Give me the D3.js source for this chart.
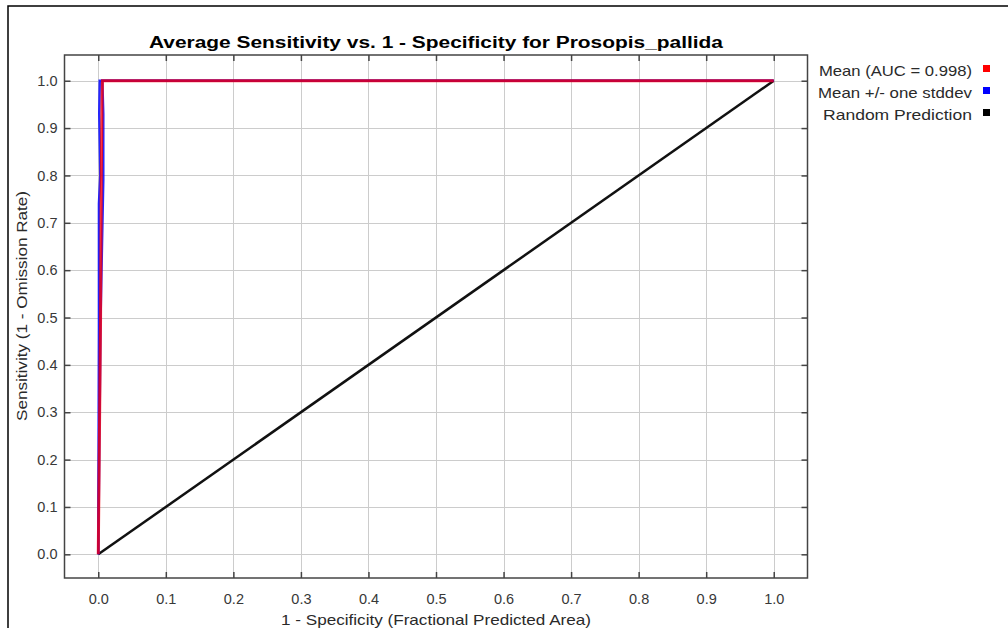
<!DOCTYPE html>
<html>
<head>
<meta charset="utf-8">
<script src="https://cdn.jsdelivr.net/npm/d3@7"></script>
<style>
  html, body { margin: 0; padding: 0; background: #fff; }
  svg { display: block; font-family: "Liberation Sans", Arial, sans-serif; }
</style>
</head>
<body>
<svg id="chart" width="1008" height="628"></svg>
<script>
// data
const xTicks = [0, 0.1, 0.2, 0.3, 0.4, 0.5, 0.6, 0.7, 0.8, 0.9, 1.0];
const yTicks = [0, 0.1, 0.2, 0.3, 0.4, 0.5, 0.6, 0.7, 0.8, 0.9, 1.0];

const upperX = [0, 0.001, 0.001, 0.003, 0.0015, 0.0022, 1];
const upperY = [0, 0.48, 0.74, 0.80, 0.93, 1.0, 1.0];
const lowerX = [0, 0.0034, 0.0074, 0.0074, 0.006, 1];
const lowerY = [0, 0.5, 0.79, 0.93, 1.0, 1.0];
const meanX = [0, 0.0034, 0.0045, 0.0055, 0.0062, 1];
const meanY = [0, 0.5, 0.8, 0.95, 1.0, 1.0];
const randomX = [0, 1];
const randomY = [0, 1];

const legendLabels = ['Mean (AUC = 0.998)', 'Mean +/- one stddev', 'Random Prediction'];
const legendColors = ['#ff0000', '#0000ff', '#000000'];
const legendWidths = [153, 154, 149];

const svg = d3.select('#chart');

// outer frame
svg.append('rect')
  .attr('x', 8).attr('y', 6)
  .attr('width', 1100).attr('height', 700)
  .attr('fill', 'none')
  .attr('stroke', '#000')
  .attr('stroke-width', 1.5);

const plot = { left: 64.5, right: 807.5, top: 55, bottom: 578 };

const x = d3.scaleLinear().domain([-0.05, 1.05]).range([plot.left, plot.right]);
const y = d3.scaleLinear().domain([-0.05, 1.0543]).range([plot.bottom, plot.top]);

// grid
const grid = svg.append('g').attr('stroke', '#cccccc').attr('stroke-width', 1);
grid.selectAll('.gx').data(xTicks).enter().append('line')
  .attr('x1', d => Math.round(x(d)) + 0.5).attr('x2', d => Math.round(x(d)) + 0.5)
  .attr('y1', plot.top).attr('y2', plot.bottom);
grid.selectAll('.gy').data(yTicks).enter().append('line')
  .attr('y1', d => Math.round(y(d)) + 0.5).attr('y2', d => Math.round(y(d)) + 0.5)
  .attr('x1', plot.left).attr('x2', plot.right);

// axes with inward ticks on all four sides
const fmt = d3.format('.1f');
function styleAxis(g) {
  g.select('.domain').remove();
  g.selectAll('.tick line').attr('stroke', '#444').attr('stroke-width', 1.5);
  g.selectAll('.tick text').attr('fill', '#383838').attr('font-size', 14.5);
}
svg.append('g').attr('transform', `translate(0,${plot.bottom})`)
  .call(d3.axisBottom(x).tickValues(xTicks).tickFormat(fmt).tickSizeInner(-6).tickPadding(15.5))
  .call(styleAxis);
svg.append('g').attr('transform', `translate(0,${plot.top})`)
  .call(d3.axisTop(x).tickValues(xTicks).tickFormat('').tickSizeInner(-6))
  .call(styleAxis);
svg.append('g').attr('transform', `translate(${plot.left},0)`)
  .call(d3.axisLeft(y).tickValues(yTicks).tickFormat(fmt).tickSizeInner(-6).tickPadding(7))
  .call(styleAxis);
svg.append('g').attr('transform', `translate(${plot.right},0)`)
  .call(d3.axisRight(y).tickValues(yTicks).tickFormat('').tickSizeInner(-6))
  .call(styleAxis);

// curves
const line = d3.line().x(d => x(d[0])).y(d => y(d[1]));
function drawSeries(xs, ys, color, width, opacity) {
  svg.append('path')
    .datum(d3.zip(xs, ys))
    .attr('d', line)
    .attr('fill', 'none')
    .attr('stroke', color)
    .attr('stroke-width', width)
    .attr('stroke-opacity', opacity)
    .attr('stroke-linejoin', 'miter');
}
drawSeries(randomX, randomY, '#111', 2.5, 1);
drawSeries(upperX, upperY, '#0000ff', 2.5, 0.85);
drawSeries(lowerX, lowerY, '#0000ff', 2.5, 0.85);
drawSeries(meanX, meanY, '#ff0000', 3, 0.78);

// plot border
svg.append('rect')
  .attr('x', plot.left).attr('y', plot.top)
  .attr('width', plot.right - plot.left).attr('height', plot.bottom - plot.top)
  .attr('fill', 'none').attr('stroke', '#444').attr('stroke-width', 1.5);

// title and axis labels
svg.append('text')
  .attr('x', (plot.left + plot.right) / 2).attr('y', 48)
  .attr('text-anchor', 'middle')
  .attr('font-size', 16).attr('font-weight', 'bold')
  .attr('textLength', 574).attr('lengthAdjust', 'spacingAndGlyphs')
  .text('Average Sensitivity vs. 1 - Specificity for Prosopis_pallida');

svg.append('text')
  .attr('x', (plot.left + plot.right) / 2).attr('y', 625)
  .attr('text-anchor', 'middle').attr('font-size', 15).attr('fill', '#2a2a2a')
  .attr('textLength', 310).attr('lengthAdjust', 'spacingAndGlyphs')
  .text('1 - Specificity (Fractional Predicted Area)');

svg.append('text')
  .attr('transform', 'translate(27,306) rotate(-90)')
  .attr('text-anchor', 'middle').attr('font-size', 15).attr('fill', '#2a2a2a')
  .attr('textLength', 230).attr('lengthAdjust', 'spacingAndGlyphs')
  .text('Sensitivity (1 - Omission Rate)');

// legend
const legend = svg.append('g');
legendLabels.forEach((label, i) => {
  const ly = 76 + i * 22;
  legend.append('text')
    .attr('x', 972).attr('y', ly)
    .attr('text-anchor', 'end').attr('font-size', 14.5).attr('fill', '#2a2a2a')
    .attr('textLength', legendWidths[i]).attr('lengthAdjust', 'spacingAndGlyphs')
    .text(label);
  legend.append('rect')
    .attr('x', 983).attr('y', ly - 11)
    .attr('width', 7).attr('height', 7)
    .attr('fill', legendColors[i]);
});
</script>
</body>
</html>
